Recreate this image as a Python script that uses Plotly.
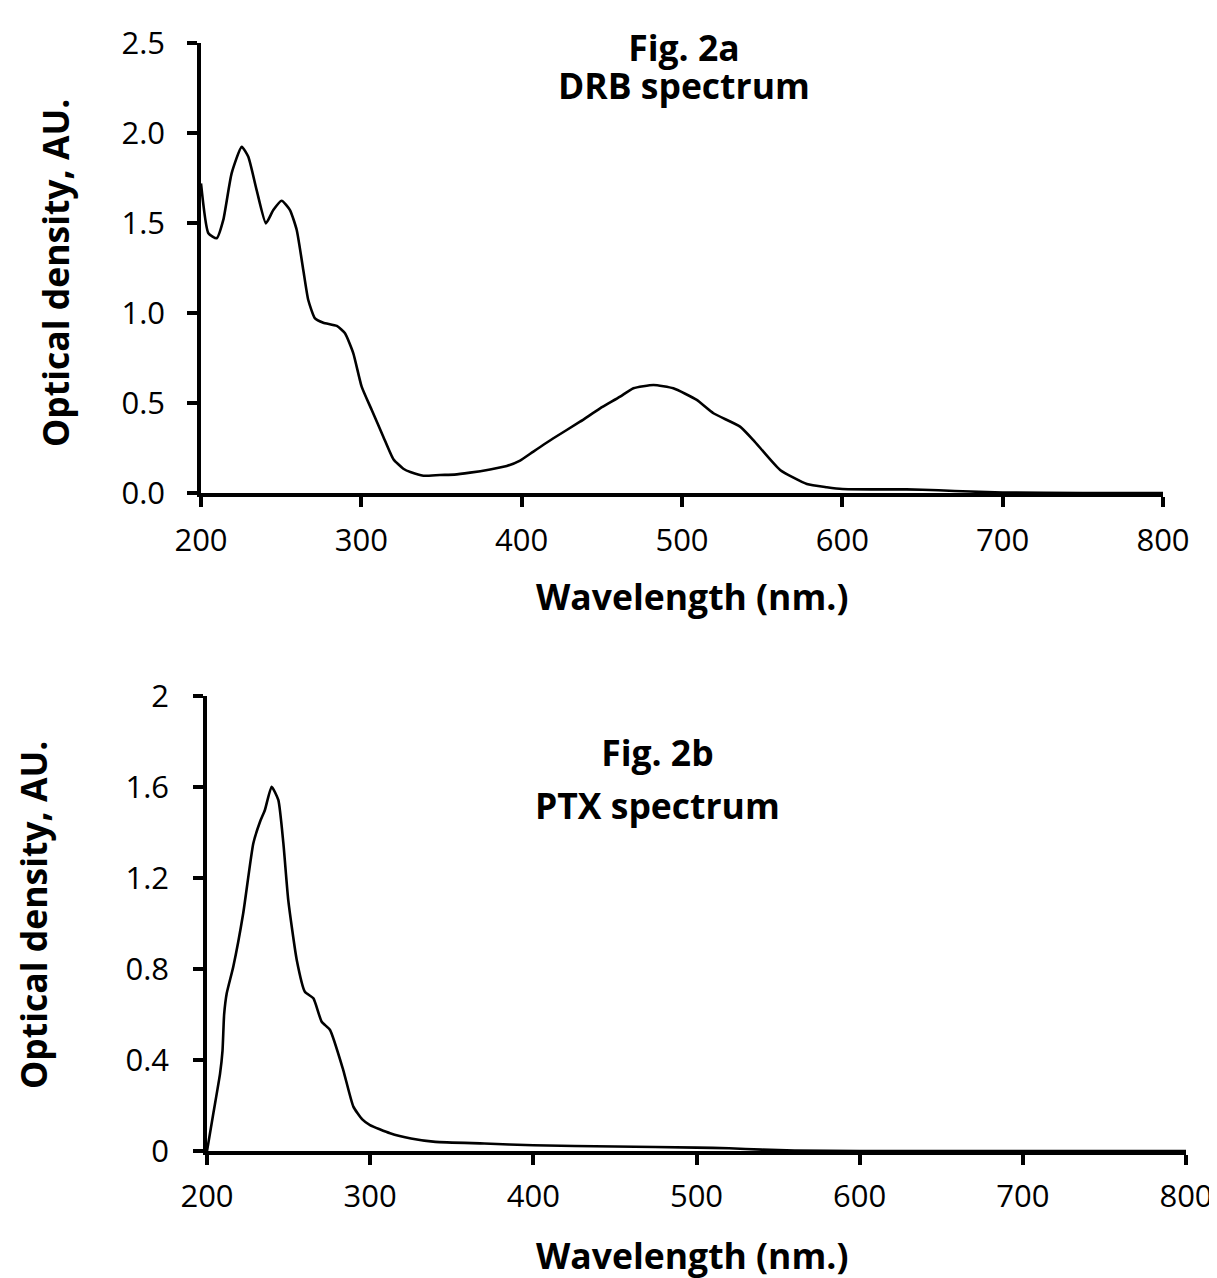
import plotly.graph_objects as go

# DRB spectrum (Fig. 2a)
drb_wl = [200, 204.6, 209.8, 213.9, 219.1, 225.4, 229.5, 234.7, 240.5, 245.1, 250.3, 255.5,
          259.7, 263.8, 266.9, 271.1, 276.3, 284.7, 289.8, 295.0, 300.2, 306.5, 313.7, 320,
          326.2, 331, 338.7, 349, 358, 367.8, 380.3, 390.7, 399, 407.3, 419.8, 436.4, 448.9,
          461.4, 469.7, 482.2, 494.6, 509.2, 519.6, 536.2, 544.5, 561.2, 577.9, 590.3, 600,
          620, 640, 660, 680, 700, 750, 800]
drb_od = [1.72, 1.443, 1.415, 1.517, 1.776, 1.924, 1.868, 1.683, 1.498, 1.572, 1.624, 1.572,
          1.461, 1.239, 1.072, 0.970, 0.946, 0.928, 0.887, 0.776, 0.591, 0.461, 0.313, 0.188,
          0.135, 0.115, 0.096, 0.1, 0.102, 0.113, 0.131, 0.15, 0.18, 0.23, 0.304, 0.396, 0.47,
          0.535, 0.582, 0.6, 0.582, 0.517, 0.443, 0.369, 0.294, 0.128, 0.05, 0.032, 0.022,
          0.02, 0.02, 0.015, 0.008, 0.003, 0.0, 0.0]

# PTX spectrum (Fig. 2b)
ptx_wl = [200, 204, 208, 209.5, 210.5, 212.1, 216.1, 222.2, 228.4, 232.5, 235.5, 239.6, 243.7,
          246.8, 249.8, 255, 260, 265.2, 270.3, 275.4, 283.5, 289.7, 295, 299.9, 312.2, 325,
          340, 370, 400, 450, 500, 520, 540, 560, 600, 700, 800]
ptx_od = [0.0, 0.17, 0.34, 0.44, 0.6, 0.693, 0.81, 1.045, 1.353, 1.447, 1.499, 1.601, 1.543,
          1.353, 1.103, 0.84, 0.70, 0.671, 0.568, 0.532, 0.356, 0.195, 0.14, 0.114, 0.078, 0.055,
          0.04, 0.033, 0.025, 0.02, 0.015, 0.012, 0.006, 0.002, 0.0, 0.0, 0.0]

top_yticks = [0.0, 0.5, 1.0, 1.5, 2.0, 2.5]
top_yticklabels = ["0.0", "0.5", "1.0", "1.5", "2.0", "2.5"]
bot_yticks = [0, 0.4, 0.8, 1.2, 1.6, 2]
bot_yticklabels = ["0", "0.4", "0.8", "1.2", "1.6", "2"]
xticks = [200, 300, 400, 500, 600, 700, 800]

W, H = 1217, 1278
OFF = 8  # page body margin
FONT = "Open Sans"

def px(x):
    return (x - OFF) / W

def py(y):
    return 1 - (y - OFF) / H

fig = go.Figure()
fig.add_trace(go.Scatter(x=drb_wl, y=drb_od, mode="lines", xaxis="x", yaxis="y",
                         line=dict(color="black", width=2.6, shape="spline", smoothing=0.5),
                         showlegend=False))
fig.add_trace(go.Scatter(x=ptx_wl, y=ptx_od, mode="lines", xaxis="x2", yaxis="y2",
                         line=dict(color="black", width=2.6, shape="spline", smoothing=0.5),
                         showlegend=False))

axis_common = dict(showline=True, linecolor="black", linewidth=3.5, ticks="outside",
                   ticklen=10, tickwidth=3.5, tickcolor="black", showgrid=False, zeroline=False,
                   tickfont=dict(family=FONT, size=31, color="black"))

fig.update_layout(
    width=W, height=H, margin=dict(l=0, r=0, t=0, b=0, autoexpand=False),
    plot_bgcolor="white", paper_bgcolor="white",
    xaxis=dict(domain=[px(201), px(1163)], range=[200, 800], tickvals=xticks,
               anchor="y", ticklabelstandoff=7, **axis_common),
    yaxis=dict(domain=[py(493), py(43)], range=[0, 2.5], tickvals=top_yticks,
               ticktext=top_yticklabels, anchor="x", ticklabelstandoff=16, **axis_common),
    xaxis2=dict(domain=[px(207), px(1186)], range=[200, 800], tickvals=xticks,
                anchor="y2", ticklabelstandoff=5, **axis_common),
    yaxis2=dict(domain=[py(1151), py(696)], range=[0, 2], tickvals=bot_yticks,
                ticktext=bot_yticklabels, anchor="x2", ticklabelstandoff=18, **axis_common),
)

def ann(text, x, y, size, angle=0):
    fig.add_annotation(text=text, x=px(x), y=py(y), xref="paper", yref="paper",
                       showarrow=False, textangle=angle, xanchor="center", yanchor="middle",
                       font=dict(family=FONT, size=size, color="black"))

TS = 35.5
ann(f"<span style='font-size:{TS}px'><b>Fig. 2a</b></span><br>"
    f"<span style='font-size:{TS}px'><b>DRB spectrum</b></span>", 684, 66, 29)
ann("<b>Wavelength (nm.)</b>", 692, 596, 35.5)
ann("<b>Optical density, AU.</b>", 55, 273, 35.5, -90)

ann(f"<span style='font-size:{TS}px'><b>Fig. 2b</b></span><br>"
    f"<span style='font-size:{TS}px'><b>PTX spectrum</b></span>", 657, 778, 41)
ann("<b>Wavelength (nm.)</b>", 692, 1255, 35.5)
ann("<b>Optical density, AU.</b>", 33, 915, 35.5, -90)

fig.write_html("out.html")
